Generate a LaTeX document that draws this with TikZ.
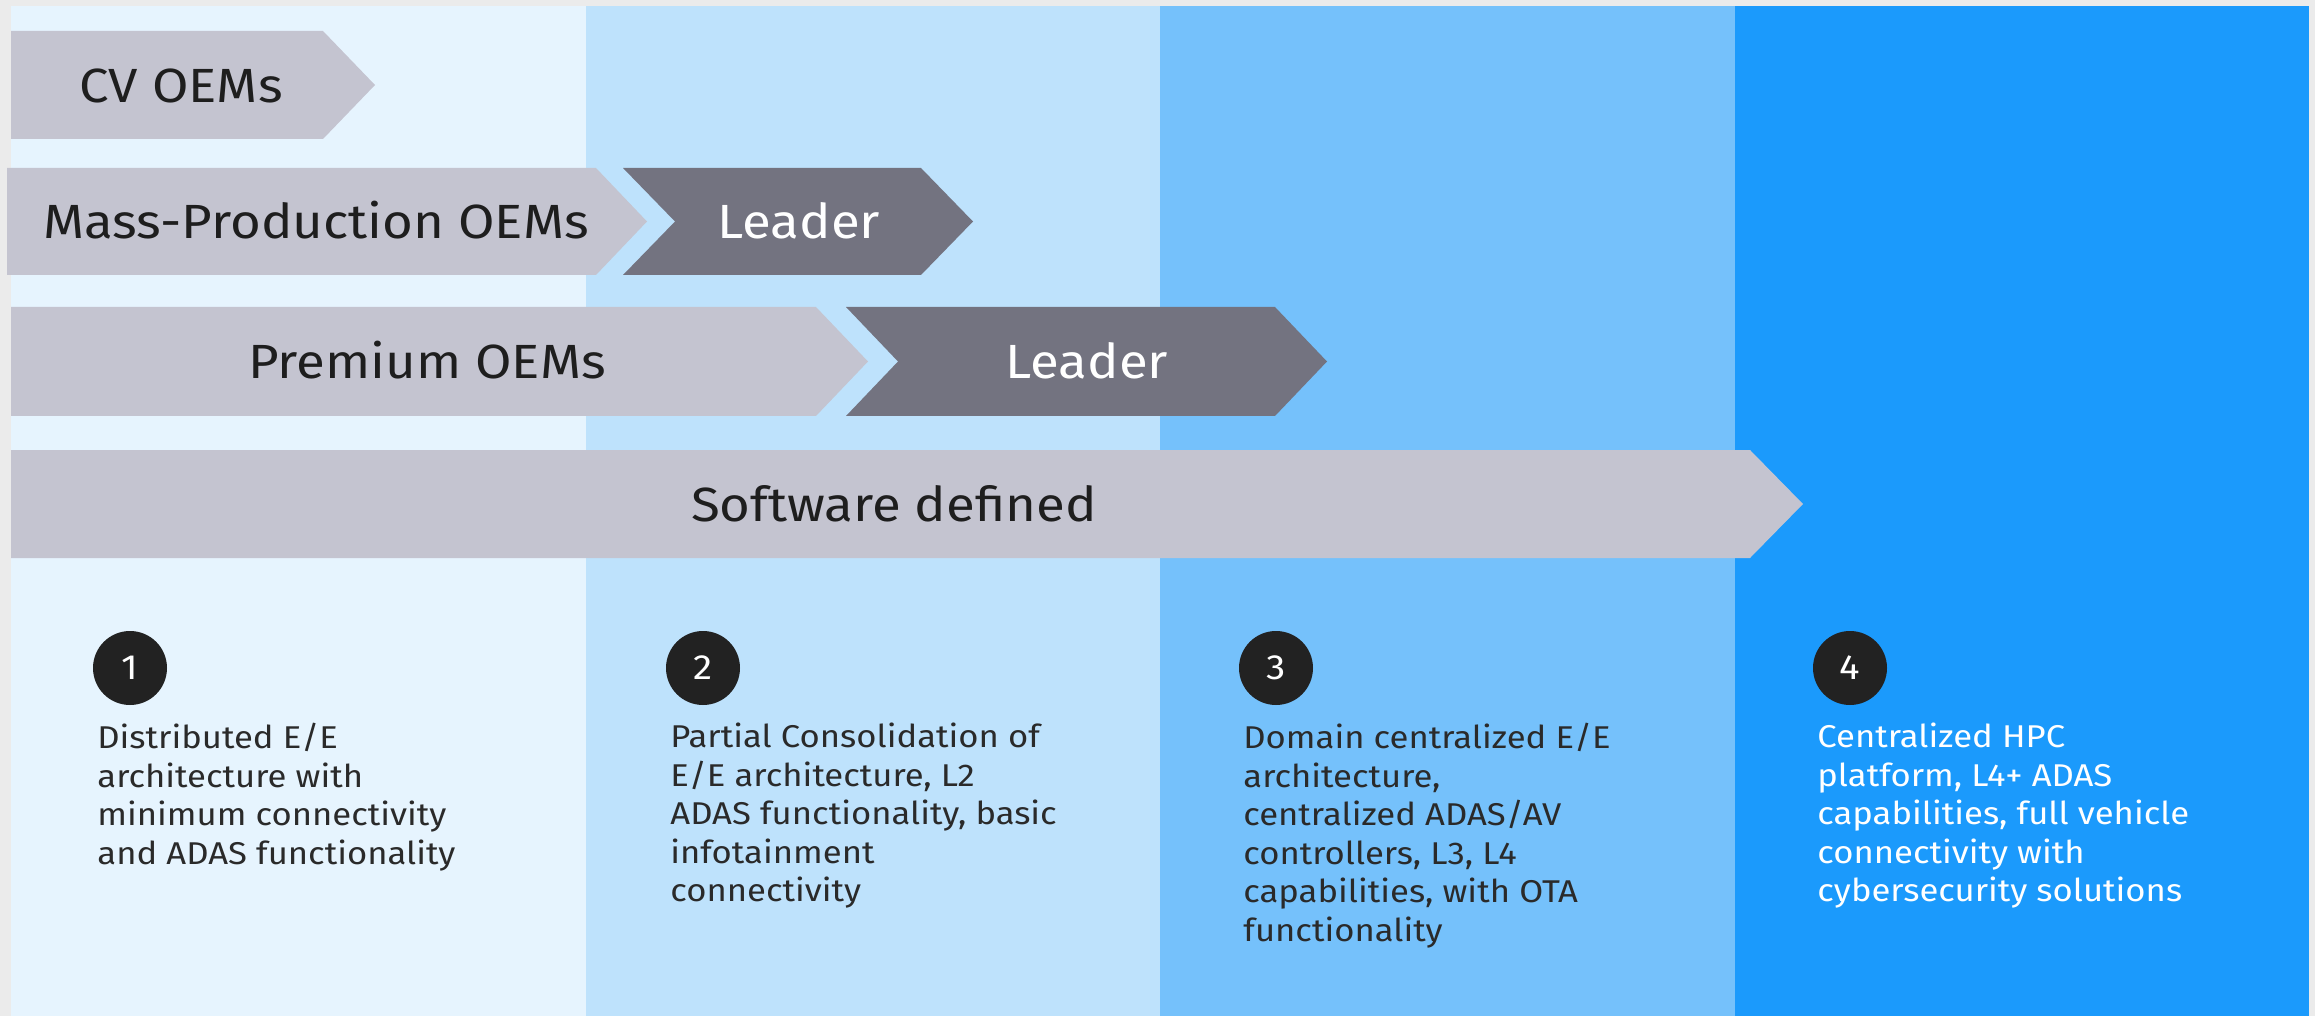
\documentclass[tikz,border=0pt]{standalone}
\usepackage{fontspec}
\setmainfont{Fira Sans}
\newfontfamily\lblfont[FakeStretch=1.1]{Fira Sans}
\newfontfamily\descfont[FakeStretch=1.1]{Fira Sans}
\definecolor{frame}{HTML}{EBEBEB}
\definecolor{colA}{HTML}{E6F4FE}
\definecolor{colB}{HTML}{BEE2FC}
\definecolor{colC}{HTML}{75C1FB}
\definecolor{colD}{HTML}{1B9AFC}
\definecolor{chevlight}{HTML}{C4C4D0}
\definecolor{chevdark}{HTML}{737380}
\definecolor{ink}{HTML}{1E1E1E}
\definecolor{descink}{HTML}{2A2A2A}
\definecolor{numfill}{HTML}{222222}
\begin{document}
\begin{tikzpicture}[x=0.5pt,y=-0.5pt,
  lbl/.style={font=\lblfont\fontsize{24}{28}\selectfont, text=ink, anchor=base, inner sep=0},
  lblw/.style={lbl, text=white},
  desc/.style={font=\descfont\fontsize{15.75}{19.25}\selectfont, text=descink, align=left, inner sep=0, anchor=north west},
  descw/.style={desc, text=white},
  num/.style={circle, fill=numfill, minimum size=37pt, inner sep=0, text=white, font=\descfont\fontsize{17.5}{20}\selectfont}]
\useasboundingbox (0,0) rectangle (2315,1016);
% background
\fill[frame] (0,0) rectangle (2315,1016);
\fill[colA] (11,6) rectangle (586,1016);
\fill[colB] (586,6) rectangle (1160,1016);
\fill[colC] (1160,6) rectangle (1735,1016);
\fill[colD] (1735,6) rectangle (2309,1016);
% chevrons
\fill[chevlight] (11,31) -- (323,31) -- (375,85) -- (323,139) -- (11,139) -- cycle;
\fill[chevlight] (7,168) -- (596,168) -- (647,221.5) -- (596,275) -- (7,275) -- cycle;
\fill[chevdark] (623,168) -- (921,168) -- (973,221.5) -- (921,275) -- (623,275) -- (675,221.5) -- cycle;
\fill[chevlight] (11,307) -- (816,307) -- (868,361.5) -- (816,416) -- (11,416) -- cycle;
\fill[chevdark] (846,307) -- (1275,307) -- (1327,361.5) -- (1275,416) -- (846,416) -- (898,361.5) -- cycle;
\fill[chevlight] (11,450) -- (1750,450) -- (1803,504) -- (1750,558) -- (11,558) -- cycle;
% labels
\node[lbl] (cv) at (181,103) {CV OEMs};
\node[lbl] (mass) at (316,239) {Mass-Production OEMs};
\node[lblw] (lead1) at (799,239) {Leader};
\node[lbl] (prem) at (427,379) {Premium OEMs};
\node[lblw] (lead2) at (1087,379) {Leader};
\node[lbl] (soft) at (894,521) {Software defined};
% numbers
\node[num] (n1) at (130,668) {1};
\node[num] (n2) at (703,668) {2};
\node[num] (n3) at (1276,668) {3};
\node[num] (n4) at (1850,668) {4};
% descriptions
\node[desc] (d1) at (97,723) {Distributed E/E\\architecture with\\minimum connectivity\\and ADAS functionality};
\node[desc] (d2) at (670,723) {Partial Consolidation of\\E/E architecture, L2\\ADAS functionality, basic\\infotainment\\connectivity};
\node[desc] (d3) at (1243,723) {Domain centralized E/E\\architecture,\\centralized ADAS/AV\\controllers, L3, L4\\capabilities, with OTA\\functionality};
\node[descw] (d4) at (1817,723) {Centralized HPC\\platform, L4+ ADAS\\capabilities, full vehicle\\connectivity with\\cybersecurity solutions};
\end{tikzpicture}
\end{document}
